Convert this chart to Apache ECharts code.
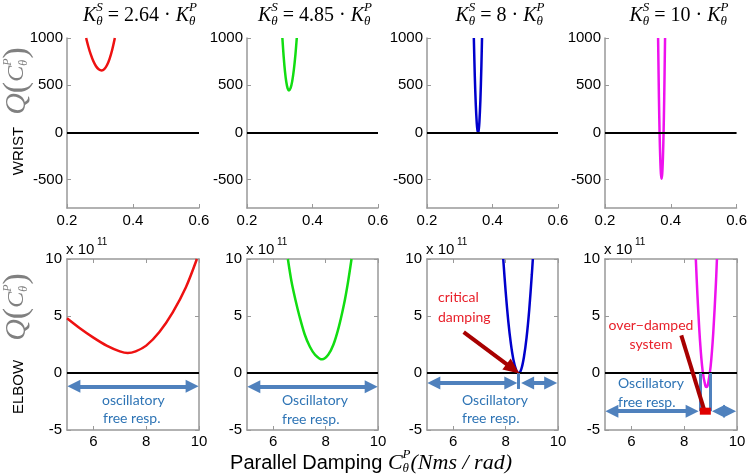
<!DOCTYPE html>
<html><head><meta charset="utf-8">
<script src="https://cdn.jsdelivr.net/npm/echarts@6/dist/echarts.min.js"></script>
<style>html,body{margin:0;padding:0;background:#fff}#c{width:750px;height:474px}</style>
</head><body><div id="c"></div>
<script>
// ---------------- data ----------------
const stiffnessRatios = ['2.64', '4.85', '8', '10'];
const wristTicksY = [-500, 0, 500, 1000];
const elbowTicksX = [6, 8, 10];

const wristC_264 = [0.258, 0.265, 0.272, 0.28, 0.288, 0.296, 0.305, 0.313, 0.321, 0.329, 0.337, 0.345];
const wristQ_264 = [1000, 905, 826, 753, 701, 669, 656, 670, 711, 780, 876, 1000];
const wristC_485 = [0.308, 0.312, 0.316, 0.320, 0.324, 0.328, 0.333, 0.338, 0.343, 0.348, 0.352];
const wristQ_485 = [1000, 800, 645, 534, 467, 445, 469, 541, 662, 830, 1000];
const wristC_8 = [0.343, 0.346, 0.349, 0.352, 0.354, 0.356, 0.358, 0.360, 0.363, 0.366, 0.368];
const wristQ_8 = [1000, 590, 290, 95, 24, 0, 28, 111, 340, 694, 1000];
const wristC_10 = [0.3614, 0.364, 0.366, 0.368, 0.370, 0.372, 0.374, 0.376, 0.378, 0.380, 0.3826];
const wristQ_10 = [1000, 359, -13, -278, -437, -490, -437, -278, -13, 359, 1000];

const elbowC_264 = [5, 5.5, 6, 6.5, 7, 7.3, 7.6, 8, 8.5, 9, 9.5, 9.92];
const elbowQ_264 = [4.8, 3.9, 3.1, 2.4, 1.9, 1.75, 1.9, 2.4, 3.6, 5.3, 7.5, 10];
const elbowC_485 = [6.56, 6.7, 6.85, 7.0, 7.2, 7.4, 7.6, 7.87, 8.1, 8.3, 8.5, 8.7, 8.85, 8.99];
const elbowQ_485 = [10, 8.0, 6.4, 5.0, 3.4, 2.3, 1.6, 1.2, 1.6, 2.5, 4.0, 6.0, 7.9, 10];
const elbowC_8 = [7.91, 8.0, 8.1, 8.2, 8.3, 8.4, 8.5, 8.6, 8.7, 8.8, 8.9, 9.0, 9.04];
const elbowQ_8 = [10, 7.2, 4.6, 2.6, 1.15, 0.29, 0, 0.34, 1.4, 3.1, 5.5, 8.6, 10];
const elbowC_10 = [8.44, 8.5, 8.6, 8.7, 8.8, 8.84, 8.9, 9.0, 9.1, 9.2, 9.24];
const elbowQ_10 = [10, 6.9, 2.8, 0.14, -1.12, -1.23, -0.98, 0.56, 3.5, 7.8, 10];

const wristC = [wristC_264, wristC_485, wristC_8, wristC_10];
const wristQ = [wristQ_264, wristQ_485, wristQ_8, wristQ_10];
const elbowC = [elbowC_264, elbowC_485, elbowC_8, elbowC_10];
const elbowQ = [elbowQ_264, elbowQ_485, elbowQ_8, elbowQ_10];

// ---------------- style ----------------
const colors = ['#ee1111', '#11dd11', '#0000cc', '#ee11ee'];
const SANS = '"Liberation Sans", Arial, sans-serif';
const SERIF = '"Liberation Serif", "Times New Roman", serif';
const ANNO = 'Lato, "Open Sans", sans-serif';
const AX = '#999';
const ARROW = '#4f81bd';
const BLUETXT = '#2e74b5';
const REDTXT = '#e8202a';
const DARKRED = '#a80000';

const lefts = [67, 247, 427, 605];
const widths = [132, 131, 131, 132];

const grids = [];
for (let i = 0; i < 4; i++) grids.push({left: lefts[i], top: 38, width: widths[i], height: 170});
for (let i = 0; i < 4; i++) grids.push({left: lefts[i], top: 259, width: widths[i], height: 171});

const axLine = {show: true, onZero: false, lineStyle: {color: AX, width: 1.5}};
const lbl = {color: '#000', fontSize: 15, fontFamily: SANS};
const plain = v => String(+(+v).toFixed(2));

const xAxes = [], yAxes = [];
for (let i = 0; i < 4; i++) {
  xAxes.push({type: 'value', gridIndex: i, min: 0.2, max: 0.6, interval: 0.2,
    axisLine: axLine, splitLine: {show: false},
    axisTick: {inside: true, length: 4, lineStyle: {color: AX}},
    axisLabel: Object.assign({margin: 5, formatter: plain}, lbl)});
  yAxes.push({type: 'value', gridIndex: i, min: -800, max: 1000,
    axisLine: axLine, splitLine: {show: false},
    axisTick: {inside: true, length: 4, lineStyle: {color: AX}, customValues: wristTicksY},
    axisLabel: Object.assign({margin: 4, customValues: wristTicksY, formatter: plain}, lbl)});
}
for (let i = 0; i < 4; i++) {
  xAxes.push({type: 'value', gridIndex: 4 + i, min: 5, max: 10,
    axisLine: axLine, splitLine: {show: false},
    axisTick: {inside: true, length: 4, lineStyle: {color: AX}, customValues: elbowTicksX},
    axisLabel: Object.assign({margin: 4, customValues: elbowTicksX, formatter: plain}, lbl)});
  yAxes.push({type: 'value', gridIndex: 4 + i, min: -5, max: 10, interval: 5,
    axisLine: axLine, splitLine: {show: false},
    axisTick: {inside: true, length: 4, lineStyle: {color: AX}},
    axisLabel: Object.assign({margin: 5, formatter: plain}, lbl)});
}
// frame axes (top / right) for bottom row
for (let i = 0; i < 4; i++) {
  xAxes.push({type: 'value', gridIndex: 4 + i, position: 'top', min: 5, max: 10,
    axisLine: axLine, splitLine: {show: false},
    axisTick: {inside: true, length: 4, lineStyle: {color: AX}, customValues: elbowTicksX},
    axisLabel: {show: false}});
  yAxes.push({type: 'value', gridIndex: 4 + i, position: 'right', min: -5, max: 10, interval: 5,
    axisLine: axLine, splitLine: {show: false},
    axisTick: {inside: true, length: 4, lineStyle: {color: AX}},
    axisLabel: {show: false}});
}

const zeroLine = {yAxis: 0, lineStyle: {color: '#000', width: 2, type: 'solid'}};
function arrow2(x1, x2, y) {
  return [{coord: [x1, y], symbol: 'triangle', symbolSize: [13, 13], lineStyle: {color: ARROW, width: 4, type: 'solid'}},
          {coord: [x2, y], symbol: 'triangle', symbolSize: [13, 13]}];
}
function seg(x1, y1, x2, y2, color, w, endSym) {
  return [{coord: [x1, y1], symbol: 'none', lineStyle: {color: color, width: w, type: 'solid'}},
          {coord: [x2, y2], symbol: endSym || 'none', symbolSize: [14, 16]}];
}
const annotations = [
  [zeroLine, arrow2(5.26, 9.74, -1.17)],
  [zeroLine, arrow2(5.26, 9.74, -1.2)],
  [zeroLine, arrow2(5.26, 8.2, -0.88), arrow2(8.84, 9.72, -0.88),
   seg(8.5, 0, 8.5, -1.4, ARROW, 3),
   seg(6.4, 3.59, 8.28, 0.37, DARKRED, 4, 'triangle')],
  [zeroLine, arrow2(5.26, 8.3, -3.35), arrow2(9.3, 9.72, -3.35),
   seg(8.62, 0, 8.62, -3.35, ARROW, 3), seg(8.99, 0, 8.99, -3.35, ARROW, 3),
   seg(7.89, 3.3, 8.76, -3.25, DARKRED, 4)]
];

const series = [];
for (let i = 0; i < 4; i++) {
  series.push({type: 'line', xAxisIndex: i, yAxisIndex: i, showSymbol: false, smooth: 0.3,
    data: wristC[i].map((c, k) => [c, wristQ[i][k]]),
    lineStyle: {color: colors[i], width: 2.5}, z: 3,
    markLine: {silent: true, symbol: ['none', 'none'], label: {show: false}, animation: false, data: [zeroLine]}});
}
for (let i = 0; i < 4; i++) {
  const s = {type: 'line', xAxisIndex: 4 + i, yAxisIndex: 4 + i, showSymbol: false, smooth: 0.3,
    data: elbowC[i].map((c, k) => [c, elbowQ[i][k]]),
    lineStyle: {color: colors[i], width: 2.5}, z: 3,
    markLine: {silent: true, symbol: ['none', 'none'], label: {show: false}, animation: false, data: annotations[i]}};
  if (i === 3) s.markPoint = {silent: true, animation: false, label: {show: false},
    data: [{coord: [8.8, -3.35], symbol: 'rect', symbolSize: [11, 7], itemStyle: {color: '#e00000'}}]};
  series.push(s);
}

// ---------------- math-like text helper ----------------
const mctx = document.createElement('canvas').getContext('2d');
function tw(t, style, size, fam) { mctx.font = style + ' ' + size + 'px ' + fam; return mctx.measureText(t).width; }
function formula(tokens, cx, cy, rot, color) {
  let x = 0, lastStart = 0, lastW = 0; const ch = [];
  tokens.forEach(tk => {
    const st = tk.st || 'normal', fam = tk.fam || SERIF;
    const w = tw(tk.t, st, tk.s, fam);
    let px;
    if (tk.stack) { px = lastStart; x = lastStart + Math.max(lastW, w); }
    else { px = x; lastStart = x; lastW = w; x += w; }
    ch.push({type: 'text', x: px, y: tk.dy || 0, style: {text: tk.t, fill: color, fontSize: tk.s, fontFamily: fam,
      fontStyle: st, align: 'left', verticalAlign: 'middle'}});
  });
  ch.forEach(c => c.x -= x / 2);
  return {type: 'group', x: cx, y: cy, rotation: rot || 0, children: ch, silent: true};
}
const graphics = [];
const titleX = [140, 315, 500, 679];
for (let i = 0; i < 4; i++) {
  graphics.push(formula([
    {t: 'K', s: 20, st: 'italic'}, {t: 'S', s: 13, st: 'italic', dy: -8}, {t: 'θ', s: 13, st: 'italic', dy: 6, stack: true},
    {t: ' = ' + stiffnessRatios[i] + ' · ', s: 20},
    {t: 'K', s: 20, st: 'italic'}, {t: 'P', s: 13, st: 'italic', dy: -8}, {t: 'θ', s: 13, st: 'italic', dy: 6, stack: true}
  ], titleX[i], 16, 0, '#000'));
}
const qTokens = [
  {t: 'Q', s: 30, st: 'italic'}, {t: '(', s: 34}, {t: 'C', s: 24, st: 'italic'},
  {t: 'P', s: 12, st: 'italic', dy: -9}, {t: 'θ', s: 12, st: 'italic', dy: 7, stack: true}, {t: ')', s: 34}
];
graphics.push(formula(qTokens, 17, 81, Math.PI / 2, '#808080'));
graphics.push(formula(qTokens, 17, 307, Math.PI / 2, '#808080'));
graphics.push({type: 'text', x: 19, y: 151, rotation: Math.PI / 2, silent: true,
  style: {text: 'WRIST', fill: '#000', fontSize: 15, fontFamily: SANS, align: 'center', verticalAlign: 'middle'}});
graphics.push({type: 'text', x: 19, y: 387, rotation: Math.PI / 2, silent: true,
  style: {text: 'ELBOW', fill: '#000', fontSize: 15, fontFamily: SANS, align: 'center', verticalAlign: 'middle'}});
for (let i = 0; i < 4; i++) {
  graphics.push({type: 'text', x: lefts[i] - 1, y: 250, silent: true,
    style: {text: 'x 10', fill: '#000', fontSize: 15, fontFamily: SANS, align: 'left', verticalAlign: 'middle'}});
  graphics.push({type: 'text', x: lefts[i] + 30, y: 242, silent: true,
    style: {text: '11', fill: '#000', fontSize: 10, fontFamily: SANS, align: 'left', verticalAlign: 'middle'}});
}
graphics.push(formula([
  {t: 'Parallel Damping ', s: 20, fam: SANS}, {t: 'C', s: 22, st: 'italic'},
  {t: 'P', s: 13, st: 'italic', dy: -8}, {t: 'θ', s: 13, st: 'italic', dy: 6, stack: true},
  {t: '(Nms / rad)', s: 22, st: 'italic'}
], 371, 463, 0, '#000'));
function txt(t, x, y, color, align) {
  graphics.push({type: 'text', x: x, y: y, silent: true,
    style: {text: t, fill: color, fontSize: 14, fontFamily: ANNO, align: align || 'left', verticalAlign: 'middle'}});
}
txt('oscillatory', 102, 400, BLUETXT); txt('free resp.', 103, 418, BLUETXT);
txt('Oscillatory', 282, 400, BLUETXT); txt('free resp.', 282, 419, BLUETXT);
txt('Oscillatory', 462, 400, BLUETXT); txt('free resp.', 462, 418, BLUETXT);
txt('Oscillatory', 618, 383, BLUETXT); txt('free resp.', 618, 402, BLUETXT);
txt('critical', 438, 297, REDTXT); txt('damping', 438, 317, REDTXT);
txt('over\u2212damped', 651, 325, REDTXT, 'center'); txt('system', 651, 344, REDTXT, 'center');

const chart = echarts.init(document.getElementById('c'), null, {renderer: 'canvas'});
chart.setOption({
  animation: false,
  backgroundColor: '#fff',
  grid: grids, xAxis: xAxes, yAxis: yAxes, series: series, graphic: graphics
});
</script></body></html>
